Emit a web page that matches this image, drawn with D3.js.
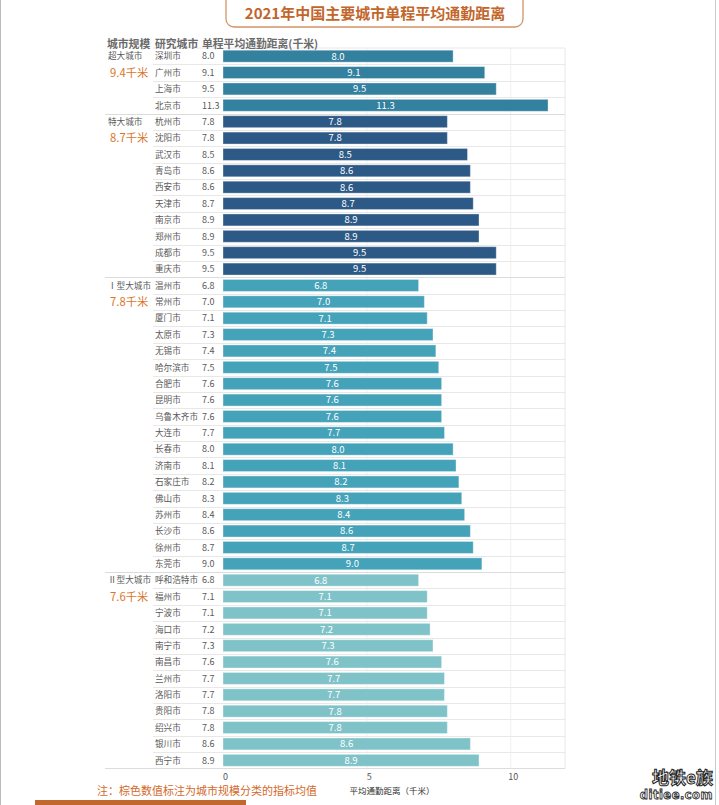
<!DOCTYPE html>
<html><head><meta charset="utf-8">
<script src="https://cdn.jsdelivr.net/npm/d3@7"></script>
<style>
html,body{margin:0;padding:0;background:#fff;}
svg{display:block;font-family:"Noto Sans CJK SC","Noto Sans",sans-serif;}
</style></head>
<body>
<svg id="chart" width="719" height="805"></svg>
<script>
const title = "2021年中国主要城市单程平均通勤距离";
const headers = ["城市规模", "研究城市", "单程平均通勤距离(千米)"];
const groupNames = ["超大城市", "特大城市", "Ⅰ型大城市", "Ⅱ型大城市"];
const groupMeans = ["9.4千米", "8.7千米", "7.8千米", "7.6千米"];
const groupColors = ["#33809F", "#2C5985", "#44A2B9", "#7FC3C9"];
const citiesMega = ["深圳市", "广州市", "上海市", "北京市"];
const valuesMega = [8.0, 9.1, 9.5, 11.3];
const citiesSuper = ["杭州市", "沈阳市", "武汉市", "青岛市", "西安市", "天津市", "南京市", "郑州市", "成都市", "重庆市"];
const valuesSuper = [7.8, 7.8, 8.5, 8.6, 8.6, 8.7, 8.9, 8.9, 9.5, 9.5];
const citiesI = ["温州市", "常州市", "厦门市", "太原市", "无锡市", "哈尔滨市", "合肥市", "昆明市", "乌鲁木齐市", "大连市", "长春市", "济南市", "石家庄市", "佛山市", "苏州市", "长沙市", "徐州市", "东莞市"];
const valuesI = [6.8, 7.0, 7.1, 7.3, 7.4, 7.5, 7.6, 7.6, 7.6, 7.7, 8.0, 8.1, 8.2, 8.3, 8.4, 8.6, 8.7, 9.0];
const citiesII = ["呼和浩特市", "福州市", "宁波市", "海口市", "南宁市", "南昌市", "兰州市", "洛阳市", "贵阳市", "绍兴市", "银川市", "西宁市"];
const valuesII = [6.8, 7.1, 7.1, 7.2, 7.3, 7.6, 7.7, 7.7, 7.8, 7.8, 8.6, 8.9];
const xTicks = [0, 5, 10];
const xTitle = "平均通勤距离（千米）";
const note = "注：棕色数值标注为城市规模分类的指标均值";

const groupCities = [citiesMega, citiesSuper, citiesI, citiesII];
const groupValues = [valuesMega, valuesSuper, valuesI, valuesII];
const rows = [];
groupCities.forEach((cs, g) => cs.forEach((c, i) => rows.push({g, city: c, value: groupValues[g][i], first: i === 0})));

const svg = d3.select("#chart");
const plotL = 223, plotR = 565, plotT = 48, plotB = 768.5;
const x = d3.scaleLinear().domain([0, 11.89]).range([plotL, plotR]);
const y = d3.scaleBand().domain(d3.range(rows.length)).range([plotT, plotB]).paddingInner(0.27).paddingOuter(0.135);
const rowTop = i => y(i) - y.step() * y.paddingInner() / 2;
const mid = i => y(i) + y.bandwidth() / 2;

// page borders
svg.append("line").attr("x1", 0.5).attr("x2", 0.5).attr("y1", 0).attr("y2", 805).attr("stroke", "#bbb");
svg.append("line").attr("x1", 715.5).attr("x2", 715.5).attr("y1", 0).attr("y2", 805).attr("stroke", "#ccc");

// title
svg.append("rect").attr("x", 226).attr("y", -10).attr("width", 297).attr("height", 37).attr("rx", 8)
  .attr("fill", "#fff").attr("stroke", "#D49467").attr("stroke-width", 1.3);
svg.append("text").attr("x", 375).attr("y", 19).attr("text-anchor", "middle")
  .attr("font-size", 15).attr("font-weight", "bold").attr("fill", "#C2662B").text(title);

// gridlines
svg.append("g").selectAll("line").data(xTicks.slice(1)).join("line")
  .attr("x1", d => x(d)).attr("x2", d => x(d)).attr("y1", plotT).attr("y2", plotB)
  .attr("stroke", "#f0f0f0");
svg.append("line").attr("x1", plotR).attr("x2", plotR).attr("y1", plotT).attr("y2", plotB).attr("stroke", "#e8e8e8");
svg.append("line").attr("x1", 153).attr("x2", plotR).attr("y1", plotT).attr("y2", plotT).attr("stroke", "#e8e8e8");

// row separators
svg.append("g").selectAll("line").data(rows.slice(1).map((r, k) => ({r, i: k + 1}))).join("line")
  .attr("x1", d => d.r.first ? 105 : 153).attr("x2", plotR)
  .attr("y1", d => Math.round(rowTop(d.i)) + 0.5).attr("y2", d => Math.round(rowTop(d.i)) + 0.5)
  .attr("stroke", d => d.r.first ? "#dcdcdc" : "#e8e8e8");
svg.append("line").attr("x1", 105).attr("x2", plotR).attr("y1", plotB).attr("y2", plotB).attr("stroke", "#dcdcdc");

// headers
const hx = [107, 155, 202];
svg.append("g").selectAll("text").data(headers).join("text")
  .attr("x", (d, i) => hx[i]).attr("y", 47.5).attr("font-size", 10.8).attr("font-weight", "bold")
  .attr("fill", "#6b6b6b").text(d => d);

// bars
svg.append("g").selectAll("rect").data(rows).join("rect")
  .attr("x", x(0)).attr("y", (d, i) => y(i)).attr("width", d => x(d.value) - x(0)).attr("height", y.bandwidth())
  .attr("fill", d => groupColors[d.g]).attr("stroke", "#ffffff").attr("stroke-opacity", 0.35).attr("stroke-width", 1);
svg.append("g").selectAll("text").data(rows).join("text")
  .attr("x", d => (x(0) + x(d.value)) / 2).attr("y", (d, i) => mid(i) + 3.4)
  .attr("text-anchor", "middle").attr("font-size", 9.5).attr("fill", "#fff").text(d => d.value.toFixed(1));

// city names + values
svg.append("g").selectAll("text").data(rows).join("text")
  .attr("x", 155).attr("y", (d, i) => mid(i) + 3.2)
  .attr("font-size", 8.6).attr("fill", "#595959").text(d => d.city);
svg.append("g").selectAll("text").data(rows).join("text")
  .attr("x", 202).attr("y", (d, i) => mid(i) + 3.2)
  .attr("font-size", 9).attr("fill", "#595959").text(d => d.value.toFixed(1));

// group labels
const firstIdx = rows.map((r, i) => r.first ? i : -1).filter(i => i >= 0);
svg.append("g").selectAll("text").data(groupNames).join("text")
  .attr("x", 108).attr("y", (d, g) => mid(firstIdx[g]) + 3.2)
  .attr("font-size", 8.6).attr("fill", "#595959").text(d => d);
svg.append("g").selectAll("text").data(groupMeans).join("text")
  .attr("x", 110).attr("y", (d, g) => mid(firstIdx[g] + 1) + 4.2)
  .attr("font-size", 11.3).attr("fill", "#D9772B").text(d => d);

// axis
const ax = svg.append("g").attr("transform", `translate(0,${plotB})`)
  .call(d3.axisBottom(x).tickValues(xTicks).tickSize(0).tickPadding(5).tickFormat(d3.format("d")));
ax.select(".domain").remove();
ax.selectAll("text").attr("font-size", 9).attr("fill", "#555").attr("font-family", "'Noto Sans CJK SC',sans-serif")
  .attr("dx", 2);
svg.append("text").attr("x", 392).attr("y", 794).attr("text-anchor", "middle").attr("font-size", 8.5)
  .attr("fill", "#333").text(xTitle);

// note
svg.append("text").attr("x", 97).attr("y", 794.5).attr("font-size", 11).attr("fill", "#D2692B").text(note);
svg.append("rect").attr("x", 35).attr("y", 800).attr("width", 211).attr("height", 6).attr("fill", "#C0682E");

// watermark
svg.append("text").attr("x", 713).attr("y", 784).attr("text-anchor", "end").attr("font-size", 17)
  .attr("font-weight", "bold").attr("fill", "#fff").attr("stroke", "#222").attr("stroke-width", 1)
  .attr("font-family", "'Noto Sans CJK SC',sans-serif").text("地铁e族");
svg.append("text").attr("x", 713).attr("y", 799).attr("text-anchor", "end").attr("font-size", 11.5)
  .attr("font-weight", "bold").attr("fill", "#fff").attr("stroke", "#222").attr("stroke-width", 0.8)
  .attr("font-family", "'DejaVu Sans',sans-serif").attr("letter-spacing", 0.5).text("ditiee.com");
</script>
</body></html>
